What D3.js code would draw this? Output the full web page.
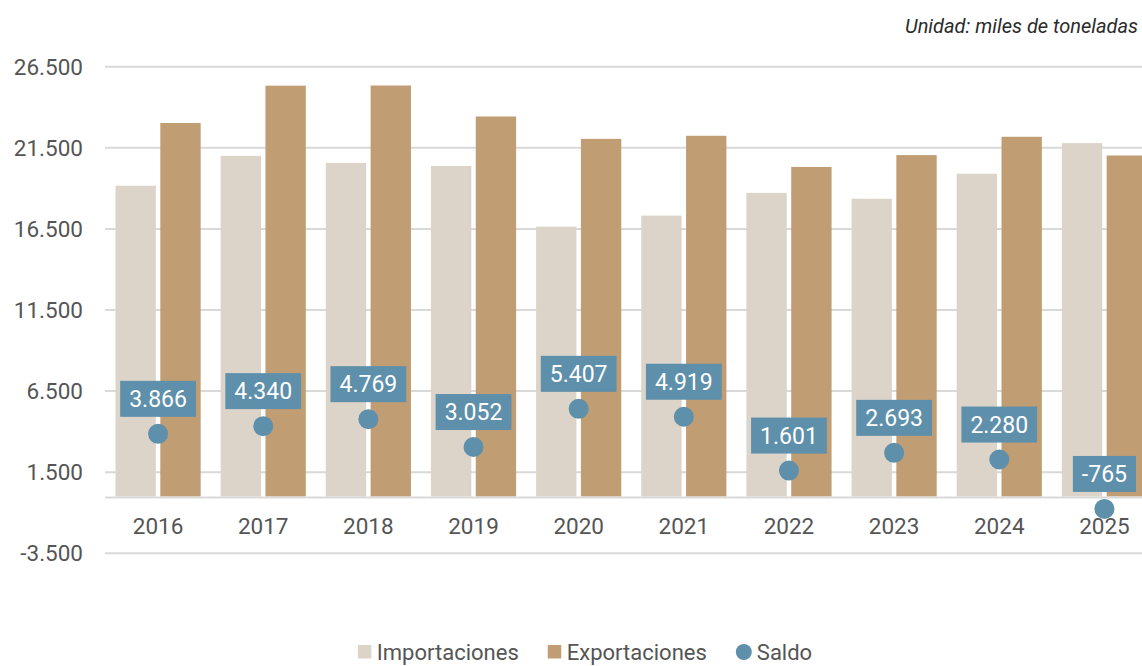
<!DOCTYPE html>
<html>
<head>
<meta charset="utf-8">
<script src="https://cdn.jsdelivr.net/npm/d3@7/dist/d3.min.js"></script>
<style>
  html, body { margin: 0; padding: 0; background: #fff; }
  svg { display: block; font-family: Roboto, "Open Sans", sans-serif; }
</style>
</head>
<body>
<svg id="chart" width="1142" height="666"></svg>
<script>
const years = ["2016","2017","2018","2019","2020","2021","2022","2023","2024","2025"];
const importaciones = [19160, 21000, 20570, 20380, 16640, 17320, 18720, 18360, 19900, 21790];
const exportaciones = [23030, 25330, 25340, 23430, 22050, 22240, 20320, 21050, 22180, 21025];
const saldo = [3866, 4340, 4769, 3052, 5407, 4919, 1601, 2693, 2280, -765];
const yTicks = [-3500, 1500, 6500, 11500, 16500, 21500, 26500];
const seriesNames = ["Importaciones", "Exportaciones", "Saldo"];
const unitLabel = "Unidad: miles de toneladas";

const colors = { imp: "#dcd4c9", exp: "#c19d73", saldo: "#5e8fab", grid: "#d9d9d9", text: "#555555" };

const svg = d3.select("#chart");
const fmt = v => d3.formatLocale({ decimal: ",", thousands: ".", grouping: [3], currency: ["", ""], minus: "-" }).format(",d")(v);

const x = d3.scaleBand().domain(years).range([105.5, 1157]).paddingInner(0.19).paddingOuter(0.095);
const xSub = d3.scaleBand().domain(["imp", "exp"]).range([0, x.bandwidth()]).paddingInner(0.1);
const y = d3.scaleLinear().domain([-3500, 26500]).range([553.3, 66.7]);

// gridlines
svg.append("g").selectAll("line").data(yTicks).join("line")
  .attr("x1", 105).attr("x2", 1142)
  .attr("y1", d => y(d)).attr("y2", d => y(d))
  .attr("stroke", colors.grid).attr("stroke-width", 2);

// y axis labels
const yAxis = d3.axisLeft(y).tickValues(yTicks).tickFormat(fmt).tickSize(0).tickPadding(0);
const ya = svg.append("g").attr("transform", "translate(83,0)").call(yAxis);
ya.select(".domain").remove();
ya.selectAll("text").attr("fill", colors.text).style("font-size", "22.5px").style("font-family", "Roboto, sans-serif").attr("dy", "0.34em");

// bars
const groups = svg.append("g").selectAll("g").data(years).join("g")
  .attr("transform", d => `translate(${x(d)},0)`);
groups.append("rect")
  .attr("x", xSub("imp")).attr("width", xSub.bandwidth())
  .attr("y", (d, i) => y(importaciones[i])).attr("height", (d, i) => y(0) - y(importaciones[i]))
  .attr("fill", colors.imp);
groups.append("rect")
  .attr("x", xSub("exp")).attr("width", xSub.bandwidth())
  .attr("y", (d, i) => y(exportaciones[i])).attr("height", (d, i) => y(0) - y(exportaciones[i]))
  .attr("fill", colors.exp);

// zero baseline
svg.append("line").attr("x1", 105).attr("x2", 1142).attr("y1", y(0) + 1).attr("y2", y(0) + 1)
  .attr("stroke", colors.grid).attr("stroke-width", 2);

// x axis labels
const xAxis = d3.axisBottom(x).tickSize(0).tickPadding(0);
const xa = svg.append("g").attr("transform", "translate(0,534)").call(xAxis);
xa.select(".domain").remove();
xa.selectAll("text").attr("fill", colors.text).attr("dy", 0).style("font-size", "22.5px").style("font-family", "Roboto, sans-serif");

// saldo dots and labels
const cx = d => x(d) + x.bandwidth() / 2;
svg.append("g").selectAll("circle").data(years).join("circle")
  .attr("cx", cx).attr("cy", (d, i) => y(saldo[i])).attr("r", 10)
  .attr("fill", colors.saldo);

const lab = svg.append("g").selectAll("g").data(years).join("g");
lab.each(function (d, i) {
  const g = d3.select(this);
  const rect = g.append("rect").attr("fill", colors.saldo);
  const t = g.append("text").text(fmt(saldo[i]))
    .attr("fill", "#fff").style("font-size", "23px").attr("text-anchor", "middle")
    .attr("x", cx(d));
  const w = t.node().getComputedTextLength() + 18;
  const bottom = y(saldo[i]) - 17;
  const h = 36;
  rect.attr("x", cx(d) - w / 2).attr("y", bottom - h).attr("width", w).attr("height", h);
  t.attr("y", bottom - h / 2).attr("dy", "0.35em");
});

// unit label
svg.append("text").text(unitLabel)
  .attr("x", 1138).attr("y", 33).attr("text-anchor", "end")
  .attr("fill", "#2b2b2b").style("font-size", "20px").style("font-style", "italic");

// legend
const legend = svg.append("g");
let lx = 0;
seriesNames.forEach((name, i) => {
  const g = legend.append("g").attr("transform", `translate(${lx},0)`);
  if (i < 2) {
    g.append("rect").attr("x", 0).attr("y", -7).attr("width", 13.5).attr("height", 13.5)
      .attr("fill", i === 0 ? colors.imp : colors.exp);
  } else {
    g.append("circle").attr("cx", 8).attr("cy", 0).attr("r", 8).attr("fill", colors.saldo);
  }
  const tx = i < 2 ? 19 : 21;
  const t = g.append("text").text(name).attr("x", tx).attr("dy", "0.35em")
    .attr("fill", colors.text).style("font-size", "22px");
  lx += tx + t.node().getComputedTextLength() + 29;
});
const totalW = lx - 29;
legend.attr("transform", `translate(${585 - totalW / 2},652)`);
</script>
</body>
</html>
